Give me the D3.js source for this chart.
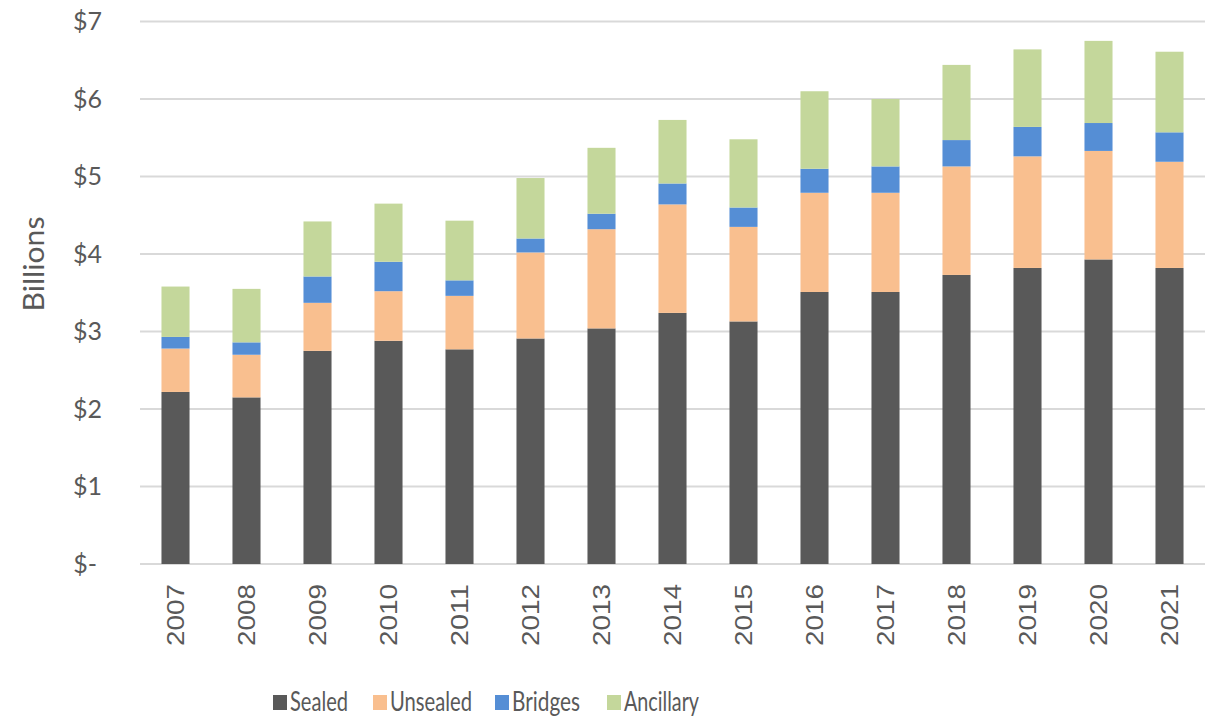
<!DOCTYPE html>
<html lang="en">
<head>
<meta charset="UTF-8">
<title>Road spending by asset</title>
<style>
    body { margin: 0; background: #fff; }
    svg text { fill: #595959; }
</style>
</head>
<body>
<div id="chart"></div>
<script src="https://cdn.jsdelivr.net/npm/d3@7"></script>
<script>
"use strict";

// data, $ billions
var years = ["2007", "2008", "2009", "2010", "2011", "2012", "2013", "2014",
             "2015", "2016", "2017", "2018", "2019", "2020", "2021"];
var sealed    = [2.22, 2.15, 2.75, 2.88, 2.77, 2.91, 3.04, 3.24, 3.13, 3.51, 3.51, 3.73, 3.82, 3.93, 3.82];
var unsealed  = [0.56, 0.55, 0.62, 0.64, 0.69, 1.11, 1.28, 1.40, 1.22, 1.28, 1.28, 1.40, 1.44, 1.40, 1.37];
var bridges   = [0.15, 0.16, 0.34, 0.38, 0.20, 0.18, 0.20, 0.27, 0.25, 0.31, 0.34, 0.34, 0.38, 0.36, 0.38];
var ancillary = [0.65, 0.69, 0.71, 0.75, 0.77, 0.78, 0.85, 0.82, 0.88, 1.00, 0.87, 0.97, 1.00, 1.06, 1.04];
var seriesNames = ["Sealed", "Unsealed", "Bridges", "Ancillary"];
var yTicks = [0, 1, 2, 3, 4, 5, 6, 7];

var colors = ["#595959", "#F9BF8F", "#558ED5", "#C4D79B"];

var width = 1220, height = 718;
var plot = { left: 140, right: 1205, top: 21.5, bottom: 564 };

var table = years.map(function (y, i) {
    return { year: y, Sealed: sealed[i], Unsealed: unsealed[i], Bridges: bridges[i], Ancillary: ancillary[i] };
});
var stacked = d3.stack().keys(seriesNames)(table);

var x = d3.scaleBand()
    .domain(years)
    .range([plot.left, plot.right])
    .paddingInner(0.605)
    .paddingOuter(0.3025);

var y = d3.scaleLinear()
    .domain([0, 7])
    .range([plot.bottom, plot.top]);

var svg = d3.select("#chart").append("svg")
    .attr("width", width)
    .attr("height", height)
    .style("font-family", "Lato, 'Open Sans', sans-serif");

// gridlines
svg.append("g")
    .selectAll("line")
    .data(yTicks)
    .enter()
    .append("line")
    .attr("x1", plot.left)
    .attr("x2", plot.right)
    .attr("y1", function (d) { return y(d); })
    .attr("y2", function (d) { return y(d); })
    .attr("stroke", "#d9d9d9")
    .attr("stroke-width", 2);

// y labels
svg.append("g")
    .selectAll("text")
    .data(yTicks)
    .enter()
    .append("text")
    .attr("x", function (d) { return d === 0 ? 97 : 102; })
    .attr("y", function (d) { return y(d); })
    .attr("dy", "0.35em")
    .attr("text-anchor", "end")
    .style("font-size", "25px")
    .text(function (d) { return d === 0 ? "$-" : "$" + d; });

// axis title
svg.append("text")
    .attr("transform", "translate(44,264) rotate(-90)")
    .attr("text-anchor", "middle")
    .attr("textLength", 95)
    .attr("lengthAdjust", "spacingAndGlyphs")
    .style("font-size", "29px")
    .text("Billions");

// bars
svg.append("g")
    .selectAll("g")
    .data(stacked)
    .enter()
    .append("g")
    .attr("fill", function (d, i) { return colors[i]; })
    .selectAll("rect")
    .data(function (d) { return d; })
    .enter()
    .append("rect")
    .attr("x", function (d) { return x(d.data.year); })
    .attr("y", function (d) { return y(d[1]); })
    .attr("width", x.bandwidth())
    .attr("height", function (d) { return y(d[0]) - y(d[1]); });

// x labels
svg.append("g")
    .selectAll("text")
    .data(years)
    .enter()
    .append("text")
    .attr("transform", function (d) {
        return "translate(" + (x(d) + x.bandwidth() / 2) + ",584) rotate(-90)";
    })
    .attr("dy", "0.36em")
    .attr("text-anchor", "end")
    .attr("textLength", 62)
    .attr("lengthAdjust", "spacingAndGlyphs")
    .style("font-family", "'Liberation Sans', Arial, sans-serif")
    .style("font-size", "24px")
    .text(function (d) { return d; });

// legend
var legendX = [273, 373, 495, 607];
var legendW = [58, 82, 68, 75];
var legend = svg.append("g")
    .selectAll("g")
    .data(seriesNames)
    .enter()
    .append("g")
    .attr("transform", function (d, i) { return "translate(" + legendX[i] + ",702)"; });

legend.append("rect")
    .attr("x", 0)
    .attr("y", -7)
    .attr("width", 14)
    .attr("height", 15)
    .attr("fill", function (d, i) { return colors[i]; });

legend.append("text")
    .attr("x", 17)
    .attr("dy", "0.36em")
    .attr("textLength", function (d, i) { return legendW[i]; })
    .attr("lengthAdjust", "spacingAndGlyphs")
    .style("font-size", "26px")
    .text(function (d) { return d; });
</script>
</body>
</html>
